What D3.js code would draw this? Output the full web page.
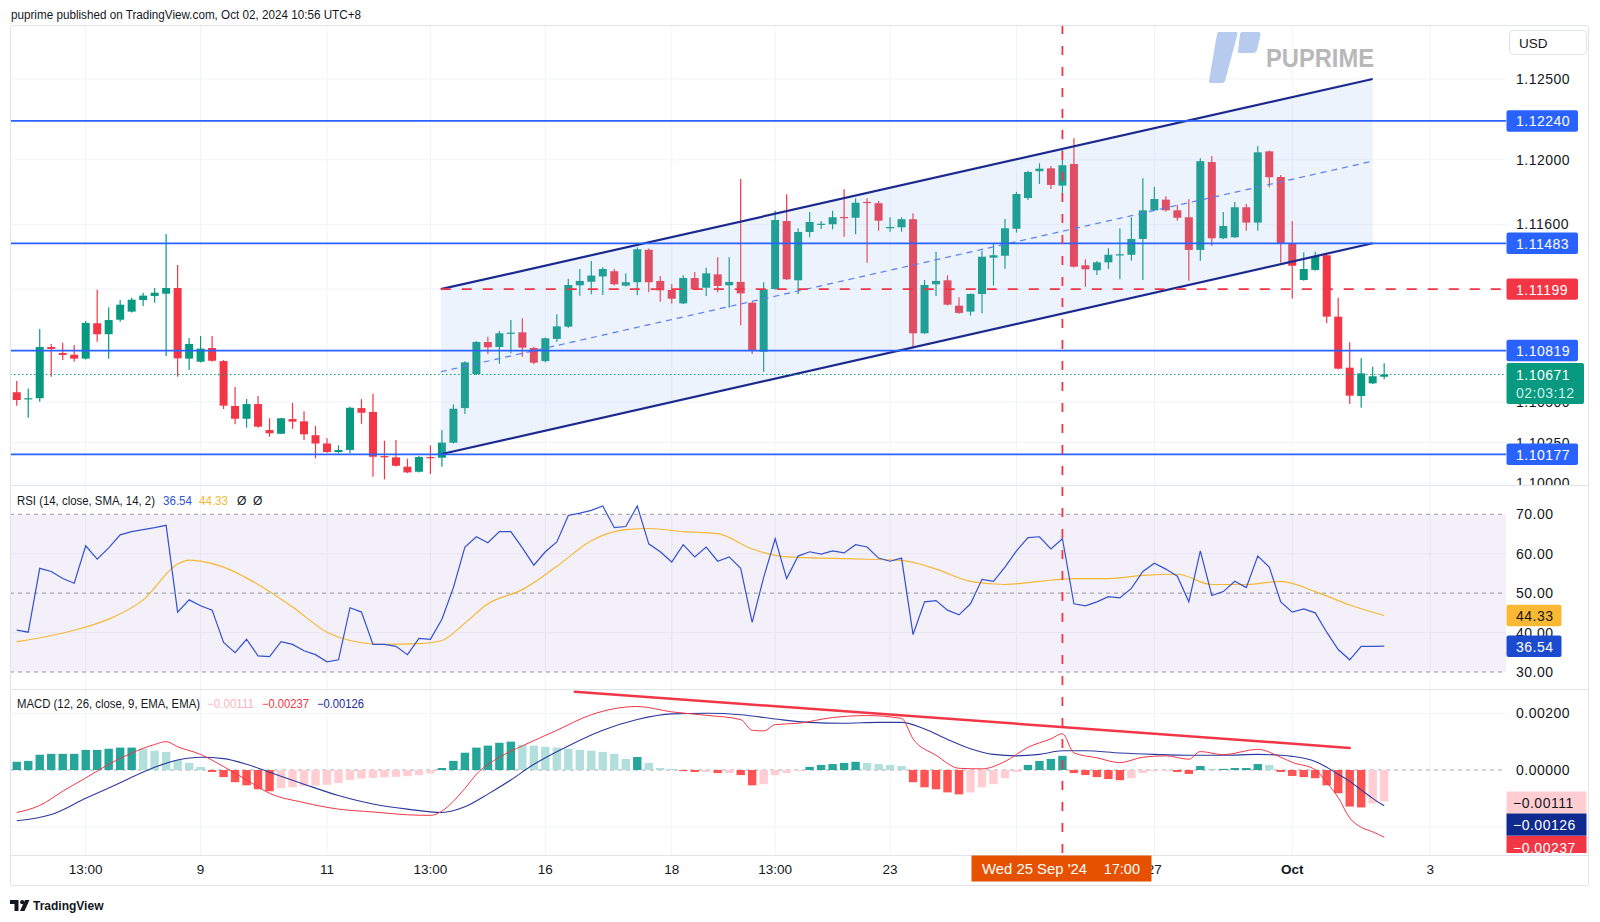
<!DOCTYPE html>
<html><head><meta charset="utf-8"><title>EURUSD 4H</title>
<script src="https://cdn.jsdelivr.net/npm/d3@7/dist/d3.min.js"></script>
<style>html,body{margin:0;padding:0;background:#fff;}svg{display:block;}</style>
</head><body>
<svg id="chart" width="1600" height="922"></svg>
<script>
// ---------------- DATA ----------------
const openP = [1.10561,1.10517,1.10524,1.10841,1.10804,1.10793,1.10769,1.10988,1.10920,1.11010,
1.11060,1.11132,1.11157,1.11171,1.11206,1.10769,1.10750,1.10835,1.10754,1.10476,
1.10397,1.10488,1.10327,1.10304,1.10395,1.10381,1.10295,1.10244,1.10191,1.10204,
1.10463,1.10439,1.10166,1.10158,1.10100,1.10069,1.10160,1.10156,1.10249,1.10463,
1.10674,1.10872,1.10841,1.10925,1.10932,1.10835,1.10754,1.10891,1.10967,1.11223,
1.11245,1.11278,1.11310,1.11221,1.11242,1.11443,1.11250,1.11194,1.11111,1.11268,
1.11208,1.11291,1.11223,1.11244,1.11115,1.10812,1.11200,1.11621,1.11254,1.11553,
1.11599,1.11601,1.11646,1.11641,1.11739,1.11731,1.11576,1.11582,1.11632,1.10926,
1.11229,1.11254,1.11097,1.11060,1.11169,1.11394,1.11406,1.11573,1.11763,1.11929,
1.11947,1.11840,1.11974,1.11347,1.11316,1.11365,1.11411,1.11412,1.11510,1.11687,
1.11753,1.11687,1.11644,1.11442,1.11986,1.11514,1.11520,1.11706,1.11611,1.12052,
1.11893,1.11480,1.11256,1.11318,1.11409,1.11029,1.10713,1.10538,1.10616,1.10657];
const highP = [1.10631,1.10585,1.10952,1.10860,1.10868,1.10853,1.11002,1.11196,1.11087,1.11132,
1.11146,1.11177,1.11206,1.11541,1.11349,1.10897,1.10909,1.10909,1.10761,1.10593,
1.10519,1.10538,1.10400,1.10402,1.10496,1.10443,1.10352,1.10276,1.10233,1.10471,
1.10519,1.10552,1.10261,1.10265,1.10150,1.10166,1.10233,1.10327,1.10486,1.10753,
1.10878,1.10905,1.10940,1.11008,1.11019,1.10843,1.10900,1.11044,1.11262,1.11324,
1.11373,1.11334,1.11324,1.11297,1.11458,1.11451,1.11281,1.11231,1.11285,1.11305,
1.11332,1.11396,1.11396,1.11881,1.11120,1.11242,1.11685,1.11786,1.11576,1.11677,
1.11621,1.11685,1.11817,1.11762,1.11762,1.11745,1.11644,1.11644,1.11669,1.11256,
1.11431,1.11285,1.11149,1.11173,1.11437,1.11483,1.11633,1.11801,1.11932,1.11978,
1.11962,1.12061,1.12133,1.11384,1.11373,1.11452,1.11576,1.11644,1.11885,1.11831,
1.11774,1.11722,1.11755,1.12009,1.12023,1.11677,1.11739,1.11726,1.12085,1.12057,
1.11906,1.11621,1.11427,1.11431,1.11425,1.11146,1.10870,1.10771,1.10719,1.10740];
const lowP = [1.10478,1.10403,1.10502,1.10657,1.10761,1.10750,1.10764,1.10874,1.10769,1.10998,
1.11055,1.11095,1.11115,1.10785,1.10657,1.10699,1.10745,1.10750,1.10457,1.10363,
1.10342,1.10342,1.10286,1.10302,1.10334,1.10265,1.10152,1.10187,1.10183,1.10183,
1.10366,1.10038,1.10022,1.10101,1.10061,1.10064,1.10055,1.10100,1.10244,1.10426,
1.10668,1.10798,1.10738,1.10802,1.10781,1.10734,1.10746,1.10872,1.10961,1.11159,
1.11167,1.11163,1.11221,1.11216,1.11161,1.11180,1.11121,1.11111,1.11107,1.11194,
1.11157,1.11180,1.11084,1.10975,1.10798,1.10688,1.11196,1.11256,1.11169,1.11520,
1.11571,1.11570,1.11524,1.11539,1.11363,1.11561,1.11555,1.11555,1.10833,1.10922,
1.11157,1.11098,1.11047,1.11035,1.11050,1.11221,1.11326,1.11549,1.11751,1.11850,
1.11819,1.11782,1.11333,1.11214,1.11287,1.11324,1.11260,1.11375,1.11256,1.11683,
1.11679,1.11623,1.11251,1.11375,1.11466,1.11508,1.11516,1.11561,1.11561,1.11830,
1.11363,1.11142,1.11251,1.11313,1.10988,1.10702,1.10488,1.10465,1.10612,1.10641];
const closeP = [1.10513,1.10524,1.10841,1.10829,1.10792,1.10769,1.10990,1.10920,1.11008,1.11103,
1.11134,1.11159,1.11177,1.11206,1.10771,1.10860,1.10831,1.10756,1.10478,1.10397,
1.10488,1.10348,1.10307,1.10400,1.10379,1.10301,1.10244,1.10191,1.10204,1.10465,
1.10434,1.10162,1.10158,1.10106,1.10065,1.10160,1.10154,1.10249,1.10459,1.10746,
1.10872,1.10839,1.10926,1.10930,1.10837,1.10744,1.10895,1.10969,1.11225,1.11250,
1.11283,1.11324,1.11229,1.11242,1.11446,1.11242,1.11192,1.11140,1.11268,1.11198,
1.11297,1.11219,1.11244,1.11173,1.10823,1.11198,1.11627,1.11260,1.11553,1.11615,
1.11604,1.11644,1.11641,1.11734,1.11734,1.11623,1.11584,1.11632,1.10926,1.11225,
1.11250,1.11103,1.11052,1.11169,1.11400,1.11409,1.11576,1.11788,1.11924,1.11945,
1.11844,1.11966,1.11338,1.11322,1.11365,1.11412,1.11415,1.11510,1.11687,1.11757,
1.11687,1.11641,1.11442,1.11991,1.11514,1.11590,1.11706,1.11611,1.12046,1.11892,
1.11483,1.11344,1.11324,1.11404,1.11029,1.10707,1.10540,1.10678,1.10660,1.10671];

// RSI(14) per candle
const rsiVals = [40.6,40.1,56.3,55.5,53.7,52.5,62.0,58.6,61.5,64.8,
65.6,66.1,66.6,67.2,45.2,48.3,46.8,45.7,37.5,34.9,
38.3,34.1,33.9,37.7,37.0,35.4,34.4,32.6,33.1,46.3,
45.2,37.0,37.0,36.5,34.4,38.5,38.3,43.4,51.4,61.7,
64.3,62.8,65.6,65.6,61.5,57.1,60.5,63.0,69.7,70.3,
71.0,72.1,66.6,66.9,72.1,62.5,60.5,57.9,62.3,59.2,
61.7,58.1,59.2,56.3,42.6,54.0,63.8,53.7,59.4,60.5,
59.9,60.7,60.2,62.3,61.7,58.9,58.1,58.9,39.5,47.8,
48.1,45.7,44.5,47.3,53.5,53.0,56.6,60.7,64.1,64.3,
61.2,63.8,47.3,46.8,47.8,49.1,48.8,51.2,55.5,57.6,
56.1,54.3,47.8,60.7,49.4,50.4,53.0,51.4,59.4,56.6,
47.8,45.2,46.0,45.0,40.1,35.7,33.1,36.5,36.5,36.54];
// RSI SMA(14) vertices
const rsiMaIdx = [0,5,8,11,14,15,16,18,21,24,27,29,32,35,37,39,41,44,47,50,53,55,58,61,64,67,70,74,77,80,83,86,89,92,95,98,101,104,107,110,113,116,119];
const rsiMaVal = [37.7,40.6,43.4,48.3,57.4,58.4,58.1,56.6,52.2,46.5,40.1,38.0,37.0,37.2,38.0,42.4,47.3,50.9,56.8,63.3,66.1,66.4,65.6,65.1,61.2,59.2,58.9,58.6,58.3,56.1,53.0,52.2,53.0,53.7,53.7,54.5,54.8,52.2,52.2,53.0,50.4,47.0,44.33];

// MACD histogram per candle
const histVals = [0.00029,0.00032,0.00054,0.00057,0.00057,0.00057,0.00071,0.00071,0.00075,0.00079,
0.00079,0.00075,0.00068,0.00064,0.00036,0.00025,0.00011,-0.00007,-0.00025,-0.00043,
-0.00054,-0.00068,-0.00075,-0.00064,-0.00061,-0.00057,-0.00055,-0.00052,-0.00046,-0.00035,
-0.00030,-0.00028,-0.00026,-0.00024,-0.00022,-0.00018,-0.00012,0.00007,0.00032,0.00061,
0.00079,0.00086,0.00096,0.00100,0.00089,0.00086,0.00082,0.00079,0.00075,0.00071,
0.00068,0.00064,0.00057,0.00039,0.00046,0.00025,0.00007,0.00004,-0.00004,-0.00007,
-0.00007,-0.00011,-0.00011,-0.00018,-0.00054,-0.00050,-0.00018,-0.00011,-0.00004,0.00011,
0.00018,0.00021,0.00025,0.00029,0.00025,0.00021,0.00018,0.00014,-0.00043,-0.00061,
-0.00068,-0.00079,-0.00086,-0.00079,-0.00061,-0.00050,-0.00029,-0.00007,0.00018,0.00032,
0.00039,0.00050,-0.00011,-0.00018,-0.00025,-0.00032,-0.00036,-0.00029,-0.00011,-0.00004,
-0.00004,-0.00007,-0.00014,0.00014,0.00004,0.00004,0.00007,0.00007,0.00021,0.00018,
-0.00007,-0.00021,-0.00025,-0.00029,-0.00054,-0.00082,-0.00129,-0.00132,-0.00118,-0.00111];
// MACD line vertices
const macdIdx = [0,2,4,6,8,10,12,13,14,16,18,20,22,25,28,31,34,36,37,38,39,40,42,44,47,50,54,57,60,63,64,65,66,68,71,74,77,78,80,82,84,86,88,90,91,92,94,96,98,100,102,103,105,108,110,111,113,114,115,116,117,118,119];
const macdVal = [-0.00150,-0.00125,-0.00075,-0.00028,0.00020,0.00060,0.00090,0.00100,0.00082,0.00055,0.00012,-0.00035,-0.00082,-0.00115,-0.00138,-0.00148,-0.00158,-0.00160,-0.00145,-0.00110,-0.00065,-0.00015,0.00045,0.00085,0.00140,0.00195,0.00224,0.00205,0.00193,0.00178,0.00140,0.00138,0.00160,0.00165,0.00185,0.00192,0.00182,0.00110,0.00052,0.00006,0.00004,0.00030,0.00080,0.00110,0.00128,0.00060,0.00043,0.00026,0.00045,0.00050,0.00038,0.00065,0.00054,0.00073,0.00045,0.00027,0.00001,-0.00044,-0.00097,-0.00169,-0.00202,-0.00218,-0.00237];
// Signal line vertices
const sigIdx = [0,3,6,9,12,14,16,18,20,22,25,28,31,34,37,39,41,43,45,48,51,54,57,60,63,66,69,72,75,77,79,81,83,85,87,89,91,93,96,99,102,105,108,110,111,113,114,115,116,117,118,119];
const sigVal = [-0.00179,-0.00157,-0.00100,-0.00045,0.00010,0.00035,0.00045,0.00040,0.00020,-0.00008,-0.00050,-0.00090,-0.00120,-0.00138,-0.00150,-0.00130,-0.00085,-0.00035,0.00020,0.00085,0.00140,0.00178,0.00198,0.00200,0.00195,0.00180,0.00168,0.00165,0.00168,0.00168,0.00145,0.00108,0.00075,0.00055,0.00050,0.00055,0.00068,0.00068,0.00060,0.00055,0.00052,0.00052,0.00055,0.00052,0.00048,0.00030,0.00010,-0.00015,-0.00040,-0.00070,-0.00100,-0.00126];

// Drawings
const levelLines = [1.12240, 1.11483, 1.10819, 1.10177];
const resistLevel = 1.11199;
const channelIdx = [36.9, 118.0];
const channelUpper = [1.11199, 1.12500];
const channelLower = [1.10177, 1.11483];
const macdTrendIdx = [48.56, 116.0];
const macdTrendVal = [0.00276, 0.00078];
const markIdx = 91;
const markDate = "Wed 25 Sep '24", markTime = "17:00";

// Axis ticks (the "25" day label is hidden under the crosshair time label)
const timeTickIdx = [6,16,27,36,46,57,66,76,99,111,123];
const timeTickLab = ["13:00","9","11","13:00","16","18","13:00","23","27","Oct","3"];
const gridIdx = [6,16,27,36,46,57,66,76,87,99,111,123];
const priceGrid = [1.10000,1.10250,1.10500,1.11200,1.11600,1.12000,1.12500];
const priceTickVals = [1.12500,1.12000,1.11600,1.10500,1.10250,1.10000];
const priceTickLab = ["1.12500","1.12000","1.11600","1.10500","1.10250","1.10000"];
const rsiTicks = [70,60,50,40,30];
const macdTicks = [0.002,0];
const macdTickLab = ["0.00200","0.00000"];
const lastPrice = 1.10671, countdown = "02:03:12";
const rsiLast = 36.54, rsiMaLast = 44.33;
const histLast = -0.00111, macdLast = -0.00237, sigLast = -0.00126;

// ---------------- LAYOUT ----------------
const svg = d3.select("#chart").attr("font-family","'Liberation Sans', Arial, sans-serif");
const PL=10, PR=1506, FR=1589, MT=25, MB=485, RB=689, KB=855, TB=886;
const x = d3.scaleLinear().domain([0,119]).range([16.75, 16.75+11.491*119]);
const y = d3.scaleLinear().domain([1.09987,1.12834]).range([MB,MT]);
const yR = d3.scaleLinear().domain([25.69,77.43]).range([RB,MB]);
const yM = d3.scaleLinear().domain([-0.002998,0.002857]).range([KB,RB]);
const TXT="#131722", GRID="#f0f3fa", BORDER="#e0e3eb";
const UP="#089981", DN="#f23645";
const fmtP = d3.format(".5f");
const minus = s => s.replace("-","\u2212");

const defs = svg.append("defs");
function clip(id,x0,y0,w,h){defs.append("clipPath").attr("id",id).append("rect").attr("x",x0).attr("y",y0).attr("width",w).attr("height",h);}
clip("cMain",PL,MT,PR-PL,MB-MT);
clip("cRsi",PL,MB,PR-PL,RB-MB);
clip("cMacd",PL,RB,PR-PL,KB-RB);
clip("cAll",PL,MT,PR-PL,KB-MT);
clip("cAxisM",PR,MT,FR-PR,MB-MT);
clip("cAxisK",PR,RB,FR-PR,KB-RB-2);

svg.append("rect").attr("width",1600).attr("height",922).attr("fill","#fff");

// header
svg.append("text").attr("x",11).attr("y",19).attr("font-size",12).attr("fill",TXT)
  .attr("textLength",350).attr("lengthAdjust","spacingAndGlyphs")
  .text("puprime published on TradingView.com, Oct 02, 2024 10:56 UTC+8");

// grid
const gGrid = svg.append("g").attr("clip-path","url(#cAll)");
gGrid.selectAll(".vg").data(gridIdx).join("line")
  .attr("x1",d=>x(d)).attr("x2",d=>x(d)).attr("y1",MT).attr("y2",KB).attr("stroke",GRID);
gGrid.selectAll(".hg").data(priceGrid).join("line")
  .attr("x1",PL).attr("x2",PR).attr("y1",d=>y(d)).attr("y2",d=>y(d)).attr("stroke",GRID);

// watermark logo
const wm = svg.append("g");
wm.append("path").attr("d","M1219,32 L1236,32 Q1238,32 1237.5,34 L1225,81 Q1224.5,83 1222,83 L1211,83 Q1208.5,83 1209,81 L1217,34 Q1217.5,32 1219,32Z").attr("fill","#b7cbef");
wm.append("path").attr("d","M1242,32 L1258,32 Q1261,32 1260.5,35 L1257,50 Q1256,53 1253,53 L1240,53 Q1237.5,53 1238,51 L1240,34 Q1240.5,32 1242,32Z").attr("fill","#b7cbef");
wm.append("text").attr("x",1266).attr("y",66.5).attr("font-size",25).attr("font-weight","bold").attr("fill","#b8b8b8")
  .attr("textLength",108).attr("lengthAdjust","spacingAndGlyphs").text("PUPRIME");

// ---------- main pane ----------
const gMain = svg.append("g").attr("clip-path","url(#cMain)");
const candles = d3.range(openP.length).map(i=>({i,o:openP[i],h:highP[i],l:lowP[i],c:closeP[i]}));
const gC = gMain.append("g");
gC.selectAll("line.w").data(candles).join("line")
  .attr("x1",d=>x(d.i)).attr("x2",d=>x(d.i)).attr("y1",d=>y(d.h)).attr("y2",d=>y(d.l))
  .attr("stroke",d=>d.c>=d.o?UP:DN).attr("stroke-width",1.2);
gC.selectAll("rect.b").data(candles).join("rect")
  .attr("x",d=>x(d.i)-4).attr("width",8)
  .attr("y",d=>y(Math.max(d.o,d.c)))
  .attr("height",d=>Math.max(1.2,Math.abs(y(d.o)-y(d.c))))
  .attr("fill",d=>d.c>=d.o?UP:DN);

// channel
const chPoly = [[x(channelIdx[0]),y(channelUpper[0])],[x(channelIdx[1]),y(channelUpper[1])],
                [x(channelIdx[1]),y(channelLower[1])],[x(channelIdx[0]),y(channelLower[0])]];
gMain.append("polygon").attr("points",chPoly.map(p=>p.join(",")).join(" ")).attr("fill","rgba(150,190,240,0.18)");
const line2 = (a,b)=>gMain.append("line").attr("x1",x(channelIdx[0])).attr("y1",y(a)).attr("x2",x(channelIdx[1])).attr("y2",y(b));
line2(channelUpper[0],channelUpper[1]).attr("stroke","#1b2a8f").attr("stroke-width",2.2);
line2(channelLower[0],channelLower[1]).attr("stroke","#1b2a8f").attr("stroke-width",2.2);
line2((channelUpper[0]+channelLower[0])/2,(channelUpper[1]+channelLower[1])/2)
  .attr("stroke","#5b7cf5").attr("stroke-width",1.2).attr("stroke-dasharray","6,5");

// level lines
gMain.selectAll("line.lv").data(levelLines).join("line")
  .attr("x1",PL).attr("x2",PR).attr("y1",d=>y(d)).attr("y2",d=>y(d)).attr("stroke","#2962ff").attr("stroke-width",1.8);
gMain.append("line").attr("x1",x(channelIdx[0])).attr("x2",PR).attr("y1",y(resistLevel)).attr("y2",y(resistLevel))
  .attr("stroke",DN).attr("stroke-width",1.8).attr("stroke-dasharray","10,11");
gMain.append("line").attr("x1",PL).attr("x2",PR).attr("y1",y(lastPrice)).attr("y2",y(lastPrice))
  .attr("stroke",UP).attr("stroke-width",1).attr("stroke-dasharray","1.5,2.5");

// ---------- RSI pane ----------
const gR = svg.append("g").attr("clip-path","url(#cRsi)");
gR.append("rect").attr("x",PL).attr("width",PR-PL).attr("y",yR(70)).attr("height",yR(30)-yR(70)).attr("fill","rgba(126,87,194,0.09)");
gR.selectAll("line.rg").data([60,40]).join("line").attr("x1",PL).attr("x2",PR).attr("y1",d=>yR(d)).attr("y2",d=>yR(d)).attr("stroke","#e9e5f3");
gR.selectAll("line.rd").data([70,50,30]).join("line").attr("x1",PL).attr("x2",PR).attr("y1",d=>yR(d)).attr("y2",d=>yR(d))
  .attr("stroke","#9598a1").attr("stroke-dasharray","4,4").attr("stroke-width",1);
gR.append("path").datum(rsiMaIdx.map((d,k)=>[d,rsiMaVal[k]]))
  .attr("d",d3.line().x(d=>x(d[0])).y(d=>yR(d[1])).curve(d3.curveMonotoneX))
  .attr("fill","none").attr("stroke","#f7b733").attr("stroke-width",1.2);
gR.append("path").datum(rsiVals.map((v,i)=>[i,v]))
  .attr("d",d3.line().x(d=>x(d[0])).y(d=>yR(d[1])))
  .attr("fill","none").attr("stroke","#3451d1").attr("stroke-width",1.2);

// ---------- MACD pane ----------
const gK = svg.append("g").attr("clip-path","url(#cMacd)");
gK.selectAll("line.kg").data([0.002,-0.002]).join("line").attr("x1",PL).attr("x2",PR).attr("y1",d=>yM(d)).attr("y2",d=>yM(d)).attr("stroke",GRID);
gK.append("line").attr("x1",PL).attr("x2",PR).attr("y1",yM(0)).attr("y2",yM(0)).attr("stroke","#a3a6af").attr("stroke-dasharray","4,4");
const histColor = (v,i)=>{const p=i>0?histVals[i-1]:v; return v>=0?(v>=p?"#26a69a":"#b2dfdb"):(v<p?"#ff5252":"#ffcdd2");};
gK.selectAll("rect.h").data(histVals).join("rect")
  .attr("x",(d,i)=>x(i)-4.2).attr("width",8.4)
  .attr("y",d=>Math.min(yM(0),yM(d))).attr("height",d=>Math.abs(yM(d)-yM(0)))
  .attr("fill",(d,i)=>histColor(d,i));
gK.append("path").datum(sigIdx.map((d,k)=>[d,sigVal[k]]))
  .attr("d",d3.line().x(d=>x(d[0])).y(d=>yM(d[1])).curve(d3.curveMonotoneX))
  .attr("fill","none").attr("stroke","#2b3a9e").attr("stroke-width",1.1);
gK.append("path").datum(macdIdx.map((d,k)=>[d,macdVal[k]]))
  .attr("d",d3.line().x(d=>x(d[0])).y(d=>yM(d[1])).curve(d3.curveMonotoneX))
  .attr("fill","none").attr("stroke","#f23645").attr("stroke-width",1);
gK.append("line").attr("x1",x(macdTrendIdx[0])).attr("y1",yM(macdTrendVal[0])).attr("x2",x(macdTrendIdx[1])).attr("y2",yM(macdTrendVal[1]))
  .attr("stroke","#f23645").attr("stroke-width",2.5).attr("stroke-linecap","round");

// vertical marker
svg.append("line").attr("x1",x(markIdx)).attr("x2",x(markIdx)).attr("y1",MT).attr("y2",KB)
  .attr("stroke",DN).attr("stroke-width",1.8).attr("stroke-dasharray","9,12");

// pane borders
[MB,RB,KB].forEach(v=>svg.append("line").attr("x1",PL).attr("x2",FR).attr("y1",v+0.5).attr("y2",v+0.5).attr("stroke",BORDER));
svg.append("rect").attr("x",PL+0.5).attr("y",MT+0.5).attr("width",FR-PL-1).attr("height",TB-MT-1).attr("fill","none").attr("stroke",BORDER).attr("rx",2);

// pane headers
function runs(y0, parts){ parts.forEach(p=>{const t=svg.append("text").attr("x",p[0]).attr("y",y0).attr("font-size",12).attr("fill",p[2]).text(p[1]); if(p[3]) t.attr("textLength",p[3]).attr("lengthAdjust","spacingAndGlyphs");}); }
runs(505,[[17,"RSI (14, close, SMA, 14, 2)",TXT,138],[163,rsiLast.toFixed(2),"#2f55dc",29],[199,rsiMaLast.toFixed(2),"#f5b731",29],[237,"Ø",TXT],[253,"Ø",TXT]]);
runs(707.5,[[17,"MACD (12, 26, close, 9, EMA, EMA)",TXT,183],[207,minus(histLast.toFixed(5)),"#f7b8be",47],[262,minus(macdLast.toFixed(5)),"#f23645",47],[317,minus(sigLast.toFixed(5)),"#1b2a99",47]]);

// ---------- time axis ----------
const gT = svg.append("g");
gT.selectAll("text").data(timeTickIdx).join("text")
  .attr("x",d=>x(d)).attr("y",874).attr("text-anchor","middle").attr("font-size",13.5).attr("fill",TXT)
  .attr("font-weight",(d,k)=>timeTickLab[k]==="Oct"?"bold":"normal")
  .text((d,k)=>timeTickLab[k]);
gT.append("rect").attr("x",971.5).attr("y",855.5).attr("width",180).attr("height",26).attr("fill","#e65100");
gT.append("text").attr("x",982).attr("y",874).attr("font-size",14.5).attr("fill","#fff")
  .attr("textLength",105).attr("lengthAdjust","spacingAndGlyphs").text(markDate);
gT.append("text").attr("x",1140).attr("y",874).attr("text-anchor","end").attr("font-size",14.5).attr("fill","#fff").text(markTime);

// ---------- price axis ----------
const gA = svg.append("g").attr("clip-path","url(#cAxisM)");
gA.selectAll("text").data(priceTickVals).join("text")
  .attr("x",1516).attr("y",d=>y(d)).attr("dominant-baseline","central").attr("font-size",14).attr("letter-spacing",0.5).attr("fill",TXT)
  .text((d,k)=>priceTickLab[k]);
function box(g, yc, txt, bg, fg, w){
  g.append("rect").attr("x",1506.5).attr("y",yc-10.7).attr("width",w).attr("height",21.4).attr("rx",2).attr("fill",bg);
  g.append("text").attr("x",1516).attr("y",yc+0.5).attr("dominant-baseline","central").attr("font-size",14).attr("letter-spacing",0.5).attr("fill",fg).text(txt);
}
levelLines.forEach(v=>box(gA,y(v),fmtP(v),"#2962ff","#fff",71.5));
box(gA,y(resistLevel),fmtP(resistLevel),"#f23645","#fff",71.5);
gA.append("rect").attr("x",1506.5).attr("y",y(lastPrice)-11.5).attr("width",77.5).attr("height",41).attr("rx",2).attr("fill","#089981");
gA.append("text").attr("x",1516).attr("y",y(lastPrice)+0.5).attr("dominant-baseline","central").attr("font-size",14).attr("letter-spacing",0.5).attr("fill","#fff").text(fmtP(lastPrice));
gA.append("text").attr("x",1516).attr("y",y(lastPrice)+19).attr("dominant-baseline","central").attr("font-size",14).attr("letter-spacing",0.5).attr("fill","#cfeee7").text(countdown);
// USD box
svg.append("rect").attr("x",1509.5).attr("y",30.5).attr("width",77).attr("height",24).attr("rx",4).attr("fill","#fff").attr("stroke",BORDER);
svg.append("text").attr("x",1519).attr("y",43).attr("dominant-baseline","central").attr("font-size",13.5).attr("fill",TXT).text("USD");

// RSI axis
svg.selectAll("text.rt").data(rsiTicks).join("text").attr("class","rt")
  .attr("x",1516).attr("y",d=>yR(d)).attr("dominant-baseline","central").attr("font-size",14).attr("letter-spacing",0.5).attr("fill",TXT).text(d=>d.toFixed(2));
const gRA = svg.append("g");
box(gRA,yR(rsiMaLast),rsiMaLast.toFixed(2),"#fbb933",TXT,55);
box(gRA,yR(rsiLast),rsiLast.toFixed(2),"#1c4bd0","#fff",55);
// MACD axis
svg.selectAll("text.mt").data(macdTicks).join("text").attr("class","mt")
  .attr("x",1516).attr("y",d=>yM(d)).attr("dominant-baseline","central").attr("font-size",14).attr("letter-spacing",0.5).attr("fill",TXT).text((d,k)=>macdTickLab[k]);
const gKA = svg.append("g").attr("clip-path","url(#cAxisK)");
[[histLast,"#ffcdd2",TXT,802.5],[sigLast,"#0f2a8e","#fff",824.5],[macdLast,"#f23645","#fff",847]].forEach(b=>{
  gKA.append("rect").attr("x",1506.5).attr("y",b[3]-11).attr("width",80).attr("height",22.2).attr("fill",b[1]);
  gKA.append("text").attr("x",1513).attr("y",b[3]+0.5).attr("dominant-baseline","central").attr("font-size",14).attr("letter-spacing",0.5).attr("fill",b[2]).text(minus(b[0].toFixed(5)));
});

// footer
svg.append("path").attr("d","M10,900 h8.5 v11 h-4 v-7 h-4.5z M25,900 h4.5 l-5,11 h-4.5z").attr("fill","#131722");
svg.append("circle").attr("cx",22.2).attr("cy",902.2).attr("r",2.1).attr("fill","#131722");
svg.append("text").attr("x",33).attr("y",910).attr("font-size",12).attr("font-weight",600).attr("fill",TXT).text("TradingView");
</script>
</body></html>
